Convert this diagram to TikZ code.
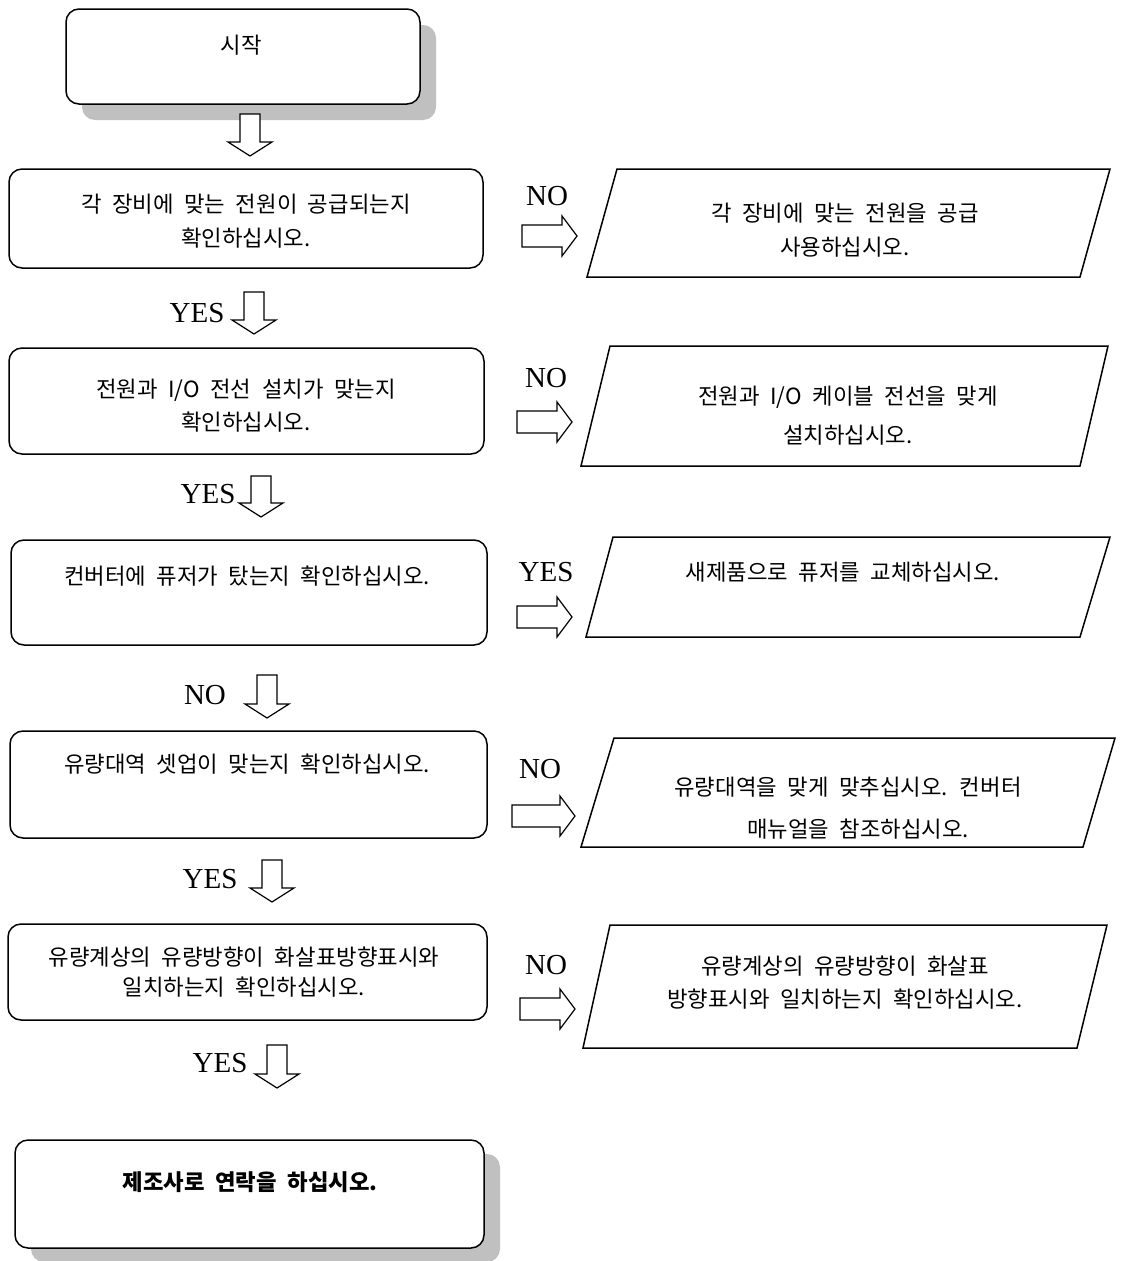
\documentclass[tikz,border=0pt]{standalone}
\usepackage{fontspec}
\setmainfont{Liberation Serif}
\newfontfamily\kr[WordSpace=2.1]{Noto Sans CJK KR}
\newcommand\krf[1]{\kr\fontsize{22.3}{#1}\selectfont}
\newcommand\myDown[3]{%
  \draw[barrow] ({#1-10},#2) -- ({#1+10},#2) -- ({#1+10},{#3-14}) -- ({#1+22},{#3-14}) -- (#1,#3) -- ({#1-22},{#3-14}) -- ({#1-10},{#3-14}) -- cycle;}
\newcommand\myRight[3]{%
  \draw[barrow] (#1,{#2-11}) -- ({#3-15},{#2-11}) -- ({#3-15},{#2-20}) -- (#3,#2) -- ({#3-15},{#2+20}) -- ({#3-15},{#2+11}) -- (#1,{#2+11}) -- cycle;}
\begin{document}
\begin{tikzpicture}[x=1pt,y=-1pt,
  rbox/.style={draw=black, line width=1.5pt, rounded corners=13pt, fill=white, inner sep=0pt},
  shadowbox/.style={fill=shadowgray, rounded corners=13pt, inner sep=0pt},
  para/.style={draw=black, line width=1.5pt, fill=white},
  krtext/.style={align=center, inner sep=0pt},
  yn/.style={font=\fontsize{29}{29}\selectfont, inner sep=0pt},
  barrow/.style={draw=black, line width=1.2pt, fill=white}
]
\definecolor{shadowgray}{RGB}{192,192,192}
\useasboundingbox (0,0) rectangle (1127,1261);
\fill[white] (0,0) rectangle (1127,1261);

% start box with shadow
\node[shadowbox, minimum width=354pt, minimum height=95pt] (startsh) at (259,72.5) {};
\node[rbox, minimum width=354pt, minimum height=95pt] (start) at (243,56.5) {};
\node[krtext, font=\krf{34}] (tstart) at (241,45) {시작};

\myDown{250}{114}{156}

% box 2
\node[rbox, minimum width=474pt, minimum height=99pt] (b2) at (246,218.5) {};
\node[krtext, font=\krf{34}] (t2) at (246,221) {각 장비에 맞는 전원이 공급되는지\\확인하십시오.};
\node[yn] (no1) at (547,196) {NO};
\myRight{522}{236}{577}
\draw[para] (617,169) -- (1110,169) -- (1080,277) -- (587,277) -- cycle;
\node[krtext, font=\krf{34}] (p1) at (845,230) {각 장비에 맞는 전원을 공급\\사용하십시오.};

\node[yn] (yes1) at (197,313) {YES};
\myDown{254}{292}{334}

% box 3
\node[rbox, minimum width=475pt, minimum height=106pt] (b3) at (246.5,401) {};
\node[krtext, font=\krf{33}] (t3) at (246,406) {전원과 I/O 전선 설치가 맞는지\\확인하십시오.};
\node[yn] (no2) at (546,378) {NO};
\myRight{517}{422}{572}
\draw[para] (610,346) -- (1108,346) -- (1080,466) -- (581,466) -- cycle;
\node[krtext, font=\krf{39}] (p2) at (848,416) {전원과 I/O 케이블 전선을 맞게\\설치하십시오.};

\node[yn] (yes2) at (208,494) {YES};
\myDown{261}{476}{517}

% box 4
\node[rbox, minimum width=476pt, minimum height=105pt] (b4) at (249,592.5) {};
\node[krtext, font=\krf{34}] (t4) at (247,576) {컨버터에 퓨저가 탔는지 확인하십시오.};
\node[yn] (yes3) at (546,572) {YES};
\myRight{517}{617}{572}
\draw[para] (613,537) -- (1110,537) -- (1080,637) -- (586,637) -- cycle;
\node[krtext, font=\krf{34}] (p3) at (843,572) {새제품으로 퓨저를 교체하십시오.};

\node[yn] (no3) at (205,695) {NO};
\myDown{267}{675}{718}

% box 5
\node[rbox, minimum width=477pt, minimum height=107pt] (b5) at (248.5,784.5) {};
\node[krtext, font=\krf{34}] (t5) at (247,764) {유량대역 셋업이 맞는지 확인하십시오.};
\node[yn] (no4) at (540,769) {NO};
\myRight{512}{816}{575}
\draw[para] (614,738) -- (1115,738) -- (1083,847) -- (581,847) -- cycle;
\node[krtext, font=\krf{42}] (p4) at (848,808) {유량대역을 맞게 맞추십시오. 컨버터\\\hspace*{20pt}매뉴얼을 참조하십시오.};

\node[yn] (yes4) at (210,879) {YES};
\myDown{272}{860}{902}

% box 6
\node[rbox, minimum width=479pt, minimum height=96pt] (b6) at (247.5,972) {};
\node[krtext, font=\krf{30}] (t6) at (244,972) {유량계상의 유량방향이 화살표방향표시와\\일치하는지 확인하십시오.};
\node[yn] (no5) at (546,965) {NO};
\myRight{520}{1009}{575}
\draw[para] (610,925) -- (1107,925) -- (1077,1048) -- (583,1048) -- cycle;
\node[krtext, font=\krf{33}] (p5) at (845,983) {유량계상의 유량방향이 화살표\\방향표시와 일치하는지 확인하십시오.};

\node[yn] (yes5) at (220,1063) {YES};
\myDown{277}{1045}{1088}

% end box with shadow
\node[shadowbox, minimum width=469pt, minimum height=108pt] (endsh) at (265.5,1208) {};
\node[rbox, minimum width=469pt, minimum height=108pt] (end) at (249.5,1194) {};
\node[krtext, font=\krf{34}\bfseries] (tend) at (250,1182) {제조사로 연락을 하십시오.};
\end{tikzpicture}
\end{document}
